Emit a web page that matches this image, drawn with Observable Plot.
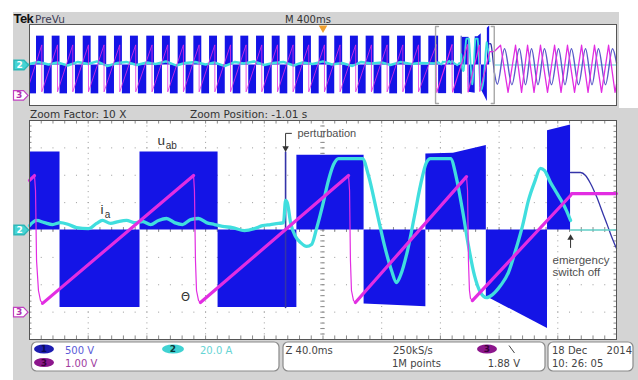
<!DOCTYPE html>
<html><head><meta charset="utf-8">
<script src="https://cdn.jsdelivr.net/npm/d3@7"></script>
<script src="https://cdn.jsdelivr.net/npm/@observablehq/plot@0.6"></script>
<style>
html,body{margin:0;padding:0;background:#fff;}
#wrap{position:relative;width:638px;height:380px;overflow:hidden;}
#wrap > svg{position:absolute;left:0;}
</style></head><body><div id="wrap"></div>
<script>
// ===== DATA (time in ms, amplitude in screen divisions) =====
// u_ab (channel 1) PWM blocks in the zoomed window: block id, time, level
const uabBlock = [1,1, 2,2, 3,3, 4,4, 5,5, 6,6, 7,7,7, 8,8, 9,9];
const uabT     = [0,20.8, 20.8,75.3, 75.3,128.5, 128.5,182.2, 182.2,228.0, 228.0,270.1, 270.1,288.9,311.3, 311.3,353.0, 353.0,368.7];
const uabV     = [2.85,2.85, -2.83,-2.83, 2.85,2.85, -2.83,-2.83, 2.73,2.73, -2.70,-2.80, 2.78,2.80,3.09, -2.43,-3.60, 3.63,3.84];
const perturbation = [[174.5,-2.83],[174.5,2.85]];
const uabAfterOff = [[368.7,2.10],[375.5,2.10],[378.9,1.99],[382.3,1.70],[386.4,1.22],[390.5,0.64],[393.9,0.16],[396.6,-0.24],[400,-0.68]];
// i_a (channel 2)
const iaTrace = [[0,0.16],[4.8,0.35],[10.2,0.27],[15.7,0.20],[21.1,0.27],[26.6,0.20],[32.0,0.09],[40.2,0.05],[45.7,0.24],[49.7,0.35],[55.2,0.24],[60.6,0.31],[66.1,0.35],[71.6,0.27],[77.0,0.31],[82.5,0.20],[87.9,0.35],[93.4,0.42],[98.8,0.27],[104.3,0.20],[109.7,0.38],[115.2,0.42],[120.6,0.27],[126.1,0.20],[131.5,0.13],[138.3,0.09],[146.5,-0.02],[153.3,0.05],[158.8,0.16],[164.2,0.20],[169.7,0.24],[173.1,0.27],[174.5,1.08],[175.8,0.97],[177.9,0.27],[181.3,-0.24],[184.7,-0.46],[188.8,-0.60],[192.2,-0.53],[195.6,0.05],[199.7,0.89],[203.7,1.81],[207.2,2.39],[210.6,2.61],[226.9,2.61],[231.0,1.99],[236.5,0.71],[241.9,-0.57],[246.7,-1.48],[250.1,-1.92],[252.8,-1.66],[257.6,-0.75],[262.4,0.53],[266.4,1.63],[270.5,2.47],[273.2,2.61],[286.9,2.61],[291.0,1.88],[295.1,0.71],[299.1,-0.57],[303.2,-1.66],[307.3,-2.28],[311.4,-2.47],[315.5,-2.36],[321.0,-2.03],[326.4,-1.55],[331.2,-0.75],[336.0,0.16],[340.0,1.08],[344.1,1.74],[348.2,2.25],[351.0,2.17],[355.0,1.74],[359.1,1.37],[363.2,1.00],[365.9,0.71],[368.7,0.35]];
const iaAfterOff = [[368.7,0],[400,0]];
// Theta (channel 3): thick ramps and thin fall-backs
const thetaRamps = [
  [[0,1.81],[3.4,1.99]],
  [[8.9,-2.68],[111.8,1.99]],
  [[116.5,-2.65],[217.4,1.99]],
  [[222.1,-2.65],[297.8,1.95]],
  [[301.8,-2.58],[368.7,1.26],[369.4,1.33],[400,1.33]]
];
const thetaDrops = [
  [[3.4,1.99],[4.1,1.44],[4.8,-1.11],[6.1,-2.21],[7.5,-2.58],[8.9,-2.68]],
  [[111.8,1.99],[112.4,1.44],[113.1,-1.11],[113.8,-2.21],[115.2,-2.58],[116.5,-2.65]],
  [[217.4,1.99],[218.1,1.44],[218.7,-1.11],[219.4,-2.21],[220.8,-2.58],[222.1,-2.65]],
  [[297.8,1.95],[298.5,1.44],[299.1,-1.11],[299.8,-2.21],[300.5,-2.50],[301.8,-2.58]]
];
// Preview record (4 s): positive PWM block start / end times
const prevPosStart = [47.7,154.7,259,366,472,579,688,799,906,1013,1120,1227,1334,1440,1547,1654,1760,1867,1974,2080,2187,2294,2401,2508,2615,2721];
const prevPosEnd   = [101,208,313,420,526,633,742,852,960,1067,1174,1281,1388,1494,1601,1708,1814,1921,2028,2134,2241,2348,2455,2562,2669,2767];
const prevLevel = 2.85;
const prevThetaDrop = [84,191,295,402,508,615,724,835,942,1049,1156,1263,1370,1476,1583,1690,1796,1903,2010,2116,2223,2330,2437,2544,2651];
const thetaHigh = 1.99, thetaLow = -2.65;
const prevCyan = [[0,0.1],[60,0.3],[130,0.05],[190,0.25],[260,-0.05],[330,0.3],[400,0.1],[460,0.35],[530,-0.1],[600,0.2],[660,0.3],[730,0.0],[800,0.25],[860,0.1],[930,0.35],[1000,-0.05],[1060,0.2],[1130,0.3],[1200,0.05],[1260,0.25],[1330,-0.1],[1400,0.3],[1460,0.15],[1530,0.35],[1600,0.0],[1660,0.2],[1730,0.3],[1800,-0.05],[1860,0.25],[1930,0.1],[2000,0.35],[2060,0.05],[2130,0.2],[2200,-0.1],[2260,0.3],[2330,0.15],[2400,0.25],[2460,0.0],[2530,0.3],[2600,0.1],[2660,0.2],[2767,0.16]];
const prevThetaPost = [[3167,1.33],[3210,1.95],[3261,-2.7],[3312,1.95],[3353,-2.7],[3394,1.95],[3438,-2.7],[3482,1.95],[3530,-2.7],[3578,1.95],[3622,-2.7],[3666,1.95],[3714,-2.7],[3762,1.95],[3806,-2.7],[3850,1.95],[3898,-2.7],[3946,1.95],[3990,-2.7],[4000,-1.9]];
const prevUabPost = [[3167,-0.68],[3188,-1.9],[3237,1.6],[3287,-1.95],[3338,1.6],[3380,-1.95],[3421,1.6],[3465,-1.95],[3509,1.6],[3557,-1.95],[3605,1.6],[3649,-1.95],[3693,1.6],[3741,-1.95],[3789,1.6],[3833,-1.95],[3877,1.6],[3925,-1.95],[3973,1.6],[4000,0.2]];
const prevIaPost = [[3167,0],[4000,0]];
const zoomStart = 2767, zoomSpan = 400, recordSpan = 4000, triggerAt = 2000;
const ch3Offset = -3;
// ===== END DATA =====

const BLUE="#1414e6", CYAN="#40dede", MAG="#e22de2", NAVY="#3434a8", GRAY="#d4d4d4";
const uab = uabT.map((t,i)=>({t, v:uabV[i], b:uabBlock[i]}));
const rampPts = thetaRamps.flatMap((s,i)=>s.map(([t,v])=>({t,v,s:i})));
const dropPts = thetaDrops.flatMap((s,i)=>s.map(([t,v])=>({t,v,s:i})));
const prevPos = prevPosStart.map((s,i)=>({x1:s,x2:prevPosEnd[i]}));
const prevNeg = prevPosStart.map((s,i)=>({x1: i===0?0:prevPosEnd[i-1], x2:s}));
const prevTheta = [[0,-1.8]];
prevThetaDrop.forEach(d=>{prevTheta.push([d,thetaHigh]);prevTheta.push([d,thetaLow]);});
prevTheta.push([zoomStart, thetaRamps[0][0][1]]);
const sh = d => zoomStart + d[0];
const sht = d => zoomStart + d.t;

const tag = {draw(ctx){ctx.moveTo(-7,-4.8);ctx.lineTo(3,-4.8);ctx.lineTo(7.5,0);ctx.lineTo(3,4.8);ctx.lineTo(-7,4.8);ctx.closePath();}};
function markers(){
  return [
    Plot.dot([0],{x:0,y:0,symbol:tag,r:5,fill:"#44d4d4",stroke:"#2fb8b8",dx:-8.5}),
    Plot.text(["2"],{x:0,y:0,dx:-10,fill:"white",fontWeight:"bold",fontSize:9,fontFamily:"DejaVu Sans"}),
    Plot.dot([0],{x:0,y:ch3Offset,symbol:tag,r:5,fill:"white",stroke:"#c040c0",strokeWidth:1.2,dx:-9}),
    Plot.text(["3"],{x:0,y:ch3Offset,dx:-10.5,fill:"#b030b0",fontWeight:"bold",fontSize:9,fontFamily:"DejaVu Sans"})
  ];
}
const T=d=>d[0], V=d=>d[1];
const styleBase = {background:"transparent", overflow:"visible", fontFamily:"DejaVu Sans"};

// ---- UI frame ----
const ui = d3.create("svg").attr("width",638).attr("height",380).style("top","0px");
ui.append("rect").attr("width",638).attr("height",380).attr("fill","#fff");
ui.append("rect").attr("x",13).attr("y",12).attr("width",625).attr("height",368).attr("fill",GRAY);
ui.append("rect").attr("x",619).attr("y",0).attr("width",19).attr("height",108).attr("fill","#fff");
function txt(s,x,y,size,fill,extra={}){
  const t=ui.append("text").attr("x",x).attr("y",y).attr("font-size",size).attr("fill",fill)
    .attr("font-family",extra.family||"DejaVu Sans").text(s);
  if(extra.weight) t.attr("font-weight",extra.weight);
  if(extra.anchor) t.attr("text-anchor",extra.anchor);
  if(extra.ls) t.attr("letter-spacing",extra.ls);
  return t;
}
txt("Tek",13.5,23,13,"#111",{family:"Liberation Sans",weight:"bold",ls:-0.6});
txt("PreVu",35,23,10.5,"#3c3c55");
txt("M 400ms",285,23,10,"#333");
txt("Zoom Factor: 10 X",30,118,10.5,"#333");
txt("Zoom Position: -1.01 s",190,118,10.5,"#333");
[[31.5,342,247.5,29],[283,342,262,29],[548,342,85,29]].forEach(([x,y,w,h])=>{
  ui.append("rect").attr("x",x).attr("y",y).attr("width",w).attr("height",h).attr("rx",5)
    .attr("fill","#fff").attr("stroke","#8a8a8a").attr("stroke-width",1.2);
});
function badge(cx,cy,rx,fill,label,lf){
  ui.append("ellipse").attr("cx",cx).attr("cy",cy).attr("rx",rx).attr("ry",4.6).attr("fill",fill);
  txt(label,cx,cy+3.3,9,lf,{anchor:"middle",weight:"bold"});
}
badge(44,349,10,"#1c1cb0","1","#0a0a55");
badge(44,362.5,10,"#8c168c","3","#3a003a");
badge(173,349,11,"#40d2d2","2","#0a3a3a");
txt("500 V",65,353.5,10,"#5a5ad8");
txt("1.00 V",65,367,10,"#a03ca0");
txt("20.0 A",200,353.5,10,"#66d4d4");
txt("Z 40.0ms",285.5,353.5,10,"#444");
txt("250kS/s",393,353.5,10,"#444");
txt("1M points",392,367,10,"#444");
badge(487,349,10,"#8c168c","3","#3a003a");
ui.append("line").attr("x1",509).attr("y1",345.5).attr("x2",514.5).attr("y2",353).attr("stroke","#444").attr("stroke-width",1);
txt("1.88 V",520,367,10,"#444",{anchor:"end"});
txt("18 Dec",552,353.5,10,"#444");
txt("2014",632,353.5,10,"#444",{anchor:"end"});
txt("10: 26: 05",552,367,10,"#444");
const wrap=document.getElementById("wrap");
wrap.appendChild(ui.node());

// ---- Preview plot ----
const prev = Plot.plot({
  width:638, height:100, marginLeft:29, marginRight:22, marginTop:10, marginBottom:9,
  x:{domain:[0,recordSpan],axis:null}, y:{domain:[-4,4],axis:null},
  style:styleBase,
  marks:[
    Plot.frame({fill:"white",stroke:null}),
    Plot.rect(prevPos,{x1:"x1",x2:"x2",y1:0,y2:prevLevel,fill:BLUE}),
    Plot.rect(prevNeg,{x1:"x1",x2:"x2",y1:-prevLevel,y2:0,fill:BLUE}),
    Plot.areaY(uab,{x:sht,y1:0,y2:"v",z:"b",fill:BLUE}),
    Plot.line(perturbation,{x:sh,y:V,stroke:NAVY,strokeWidth:1}),
    Plot.line(prevCyan,{x:T,y:V,stroke:CYAN,strokeWidth:2.4}),
    Plot.line(iaTrace,{x:sh,y:V,stroke:CYAN,strokeWidth:1.8}),
    Plot.line(prevIaPost,{x:T,y:V,stroke:"#8fdde6",strokeWidth:1.5}),
    Plot.line(uabAfterOff,{x:sh,y:V,stroke:NAVY,strokeWidth:1.3}),
    Plot.line(prevUabPost,{x:T,y:V,stroke:"#5a5ac8",strokeWidth:1.4,curve:"monotone-x"}),
    Plot.line(prevTheta,{x:T,y:V,stroke:MAG,strokeWidth:0.9,strokeOpacity:0.9}),
    Plot.line(rampPts,{x:sht,y:"v",z:"s",stroke:MAG,strokeWidth:1.2}),
    Plot.line(dropPts,{x:sht,y:"v",z:"s",stroke:MAG,strokeWidth:0.8}),
    Plot.line(prevThetaPost,{x:T,y:V,stroke:MAG,strokeWidth:1.3}),
    Plot.line([[zoomStart+20,3.8],[zoomStart,3.8],[zoomStart,-3.8],[zoomStart+20,-3.8]],{x:T,y:V,stroke:"#a8a8a8",strokeWidth:1.4}),
    Plot.line([[zoomStart+zoomSpan-20,3.8],[zoomStart+zoomSpan,3.8],[zoomStart+zoomSpan,-3.8],[zoomStart+zoomSpan-20,-3.8]],{x:T,y:V,stroke:"#a8a8a8",strokeWidth:1.4}),
    Plot.frame({stroke:"#555"}),
    Plot.dot([triggerAt],{x:d=>d,y:4,symbol:"triangle",rotate:180,r:3.2,fill:"#f0a030",dy:3.5}),
    ...markers()
  ]
});
prev.style.top="14px";
wrap.appendChild(prev);

// ---- Main (zoomed) plot ----
const gridT=d3.range(0,400.01,40), gridV=d3.range(-4,4.01,1);
const minorT=d3.range(0,400.01,8), minorV=d3.range(-4,4.01,0.2);
const main = Plot.plot({
  width:638, height:240, marginLeft:29, marginRight:22, marginTop:10, marginBottom:11,
  x:{domain:[0,zoomSpan],axis:null}, y:{domain:[-4,4],axis:null},
  style:styleBase,
  marks:[
    Plot.frame({fill:"white",stroke:null}),
    Plot.ruleX(gridT.slice(1,-1),{stroke:"#9a9a9a",strokeDasharray:"1,4.47"}),
    Plot.ruleY(gridV.slice(1,-1),{stroke:"#9a9a9a",strokeDasharray:"1,10.74"}),
    Plot.ruleX(minorT,{x:d=>d,y1:-0.09,y2:0.09,stroke:"#8a8a8a"}),
    Plot.ruleY(minorV,{y:d=>d,x1:198.5,x2:201.5,stroke:"#8a8a8a"}),
    Plot.ruleX(minorT,{x:d=>d,y1:4,y2:3.87,stroke:"#8a8a8a"}),
    Plot.ruleX(minorT,{x:d=>d,y1:-4,y2:-3.87,stroke:"#8a8a8a"}),
    Plot.ruleY(minorV,{y:d=>d,x1:0,x2:1.7,stroke:"#8a8a8a"}),
    Plot.ruleY(minorV,{y:d=>d,x1:398.3,x2:400,stroke:"#8a8a8a"}),
    Plot.areaY(uab,{x:"t",y1:0,y2:"v",z:"b",fill:BLUE}),
    Plot.line(perturbation,{x:T,y:V,stroke:NAVY,strokeWidth:1.6}),
    Plot.line(uabAfterOff,{x:T,y:V,stroke:NAVY,strokeWidth:1.3,curve:"monotone-x"}),
    Plot.line(iaAfterOff,{x:T,y:V,stroke:"#62cec6",strokeWidth:1.6}),
    Plot.line(iaTrace,{x:T,y:V,stroke:CYAN,strokeWidth:3.3,curve:"monotone-x",strokeLinejoin:"round"}),
    Plot.line(dropPts,{x:"t",y:"v",z:"s",stroke:MAG,strokeWidth:1.2}),
    Plot.line(rampPts,{x:"t",y:"v",z:"s",stroke:MAG,strokeWidth:3.2}),
    Plot.frame({stroke:"#555"}),
    Plot.text(["u"],{x:87.2,y:3.27,fontSize:13.5,fill:"#333",textAnchor:"start",fontFamily:"Liberation Sans"}),
    Plot.text(["ab"],{x:92.8,y:3.08,fontSize:10,fill:"#333",textAnchor:"start",fontFamily:"Liberation Sans"}),
    Plot.text(["i"],{x:48.4,y:0.75,fontSize:13.5,fill:"#333",textAnchor:"start",fontFamily:"Liberation Sans"}),
    Plot.text(["a"],{x:51.2,y:0.56,fontSize:10,fill:"#333",textAnchor:"start",fontFamily:"Liberation Sans"}),
    Plot.text(["Θ"],{x:106.3,y:-2.47,fontSize:11.5,fill:"#333",fontFamily:"DejaVu Sans"}),
    Plot.text(["perturbation"],{x:182.6,y:3.53,fontSize:11,fill:"#505050",textAnchor:"start",fontFamily:"Liberation Sans"}),
    Plot.line([[178.5,3.53],[174.5,3.53],[174.5,3.0]],{x:T,y:V,stroke:"#333",strokeWidth:1}),
    Plot.dot([[174.5,2.99]],{x:T,y:V,symbol:"triangle",rotate:180,r:2.4,fill:"#333"}),
    Plot.text(["emergency"],{x:356.4,y:-1.11,fontSize:11.5,fill:"#505050",textAnchor:"start",fontFamily:"Liberation Sans"}),
    Plot.text(["switch off"],{x:356.4,y:-1.55,fontSize:11.5,fill:"#505050",textAnchor:"start",fontFamily:"Liberation Sans"}),
    Plot.line([[368.7,-0.64],[368.7,-0.3]],{x:T,y:V,stroke:"#333",strokeWidth:1}),
    Plot.dot([[368.7,-0.29]],{x:T,y:V,symbol:"triangle",r:2.4,fill:"#333"}),
    ...markers()
  ]
});
main.style.top="110px";
wrap.appendChild(main);
</script></body></html>
